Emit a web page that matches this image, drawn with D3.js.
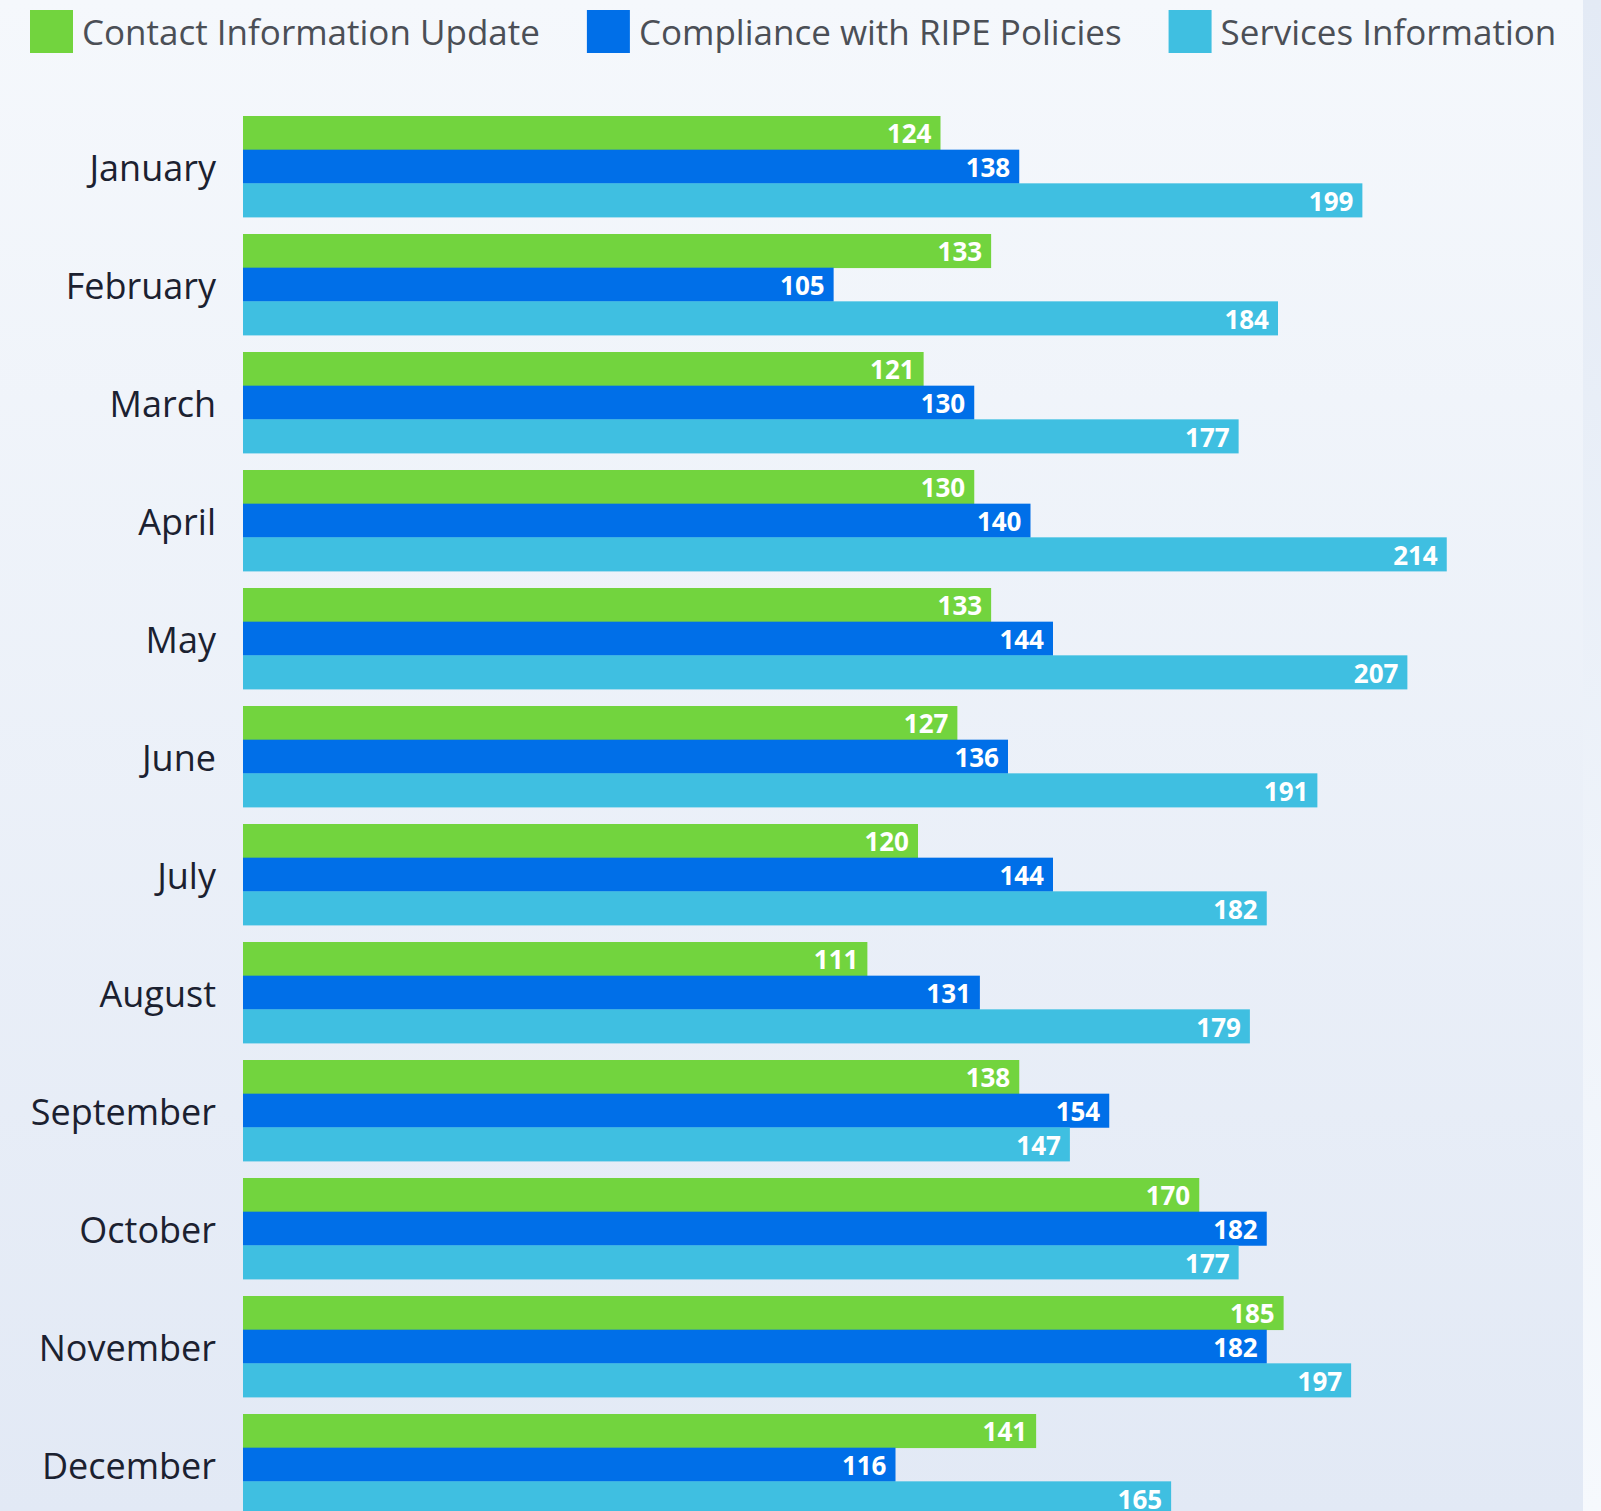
<!DOCTYPE html>
<html>
<head>
<meta charset="utf-8">
<script src="https://cdn.jsdelivr.net/npm/d3@7"></script>
<style>
  html, body { margin: 0; padding: 0; background: #f5f8fc; }
  svg { display: block; font-family: "Open Sans", sans-serif; }
</style>
</head>
<body>
<svg id="chart"></svg>
<script>
// data
var months = ['January', 'February', 'March', 'April', 'May', 'June', 'July',
  'August', 'September', 'October', 'November', 'December'];
var seriesNames = ['Contact Information Update', 'Compliance with RIPE Policies', 'Services Information'];
var contactUpdate = [124, 133, 121, 130, 133, 127, 120, 111, 138, 170, 185, 141];
var ripeCompliance = [138, 105, 130, 140, 144, 136, 144, 131, 154, 182, 182, 116];
var servicesInfo = [199, 184, 177, 214, 207, 191, 182, 179, 147, 177, 197, 165];
var seriesColors = ['#72d43e', '#006fe8', '#3fbfe1'];

var W = 1601, H = 1511;
var svg = d3.select('#chart').attr('width', W).attr('height', H);

var defs = svg.append('defs');
var g1 = defs.append('linearGradient').attr('id', 'panelBg')
    .attr('x1', 0).attr('y1', 0).attr('x2', 0).attr('y2', 1);
g1.append('stop').attr('offset', '0%').attr('stop-color', '#f5f8fc');
g1.append('stop').attr('offset', '100%').attr('stop-color', '#e2e9f5');
var g2 = defs.append('linearGradient').attr('id', 'sideBg')
    .attr('x1', 0).attr('y1', 0).attr('x2', 0).attr('y2', 1);
g2.append('stop').attr('offset', '0%').attr('stop-color', '#e3eaf5');
g2.append('stop').attr('offset', '100%').attr('stop-color', '#f6f9fd');

svg.append('rect').attr('x', 0).attr('y', 0).attr('width', W).attr('height', H)
    .attr('fill', 'url(#panelBg)');
svg.append('rect').attr('x', 1583).attr('y', 0).attr('width', W - 1583).attr('height', H)
    .attr('fill', 'url(#sideBg)');

// rows: one per month
var rows = months.map(function(m, i) {
  return { month: m, values: [contactUpdate[i], ripeCompliance[i], servicesInfo[i]] };
});

var x = d3.scaleLinear()
    .domain([0, d3.max(servicesInfo)])
    .range([243, 1446.75]);

var y = d3.scaleBand()
    .domain(months)
    .range([116, 1515])
    .paddingInner(17 / 118)
    .paddingOuter(0);

var ySub = d3.scaleBand()
    .domain(d3.range(seriesNames.length))
    .range([0, y.bandwidth()]);

// month axis labels
var yAxis = d3.axisLeft(y).tickSize(0).tickPadding(0);
var axisG = svg.append('g')
    .attr('transform', 'translate(216,0)')
    .call(yAxis);
axisG.select('.domain').remove();
axisG.selectAll('text')
    .attr('font-family', '"Open Sans", sans-serif')
    .attr('font-size', 36)
    .attr('fill', '#1b2130')
    .attr('dy', '0.4em');

var groups = svg.selectAll('g.month')
    .data(rows)
  .enter().append('g')
    .attr('class', 'month')
    .attr('transform', function(d) { return 'translate(0,' + y(d.month) + ')'; });

var cells = groups.selectAll('g.bar')
    .data(function(d) { return d.values.map(function(v, k) { return { k: k, v: v }; }); })
  .enter().append('g')
    .attr('class', 'bar');

cells.append('rect')
    .attr('x', x(0))
    .attr('y', function(d) { return ySub(d.k); })
    .attr('width', function(d) { return x(d.v) - x(0); })
    .attr('height', ySub.bandwidth() + 0.4)
    .attr('fill', function(d) { return seriesColors[d.k]; });

cells.append('text')
    .attr('x', function(d) { return x(d.v) - 9; })
    .attr('y', function(d) { return ySub(d.k) + ySub.bandwidth() / 2; })
    .attr('dy', '0.4em')
    .attr('text-anchor', 'end')
    .attr('font-size', 26)
    .attr('font-weight', 700)
    .attr('fill', '#ffffff')
    .text(function(d) { return d.v; });

// legend
var legend = svg.append('g').attr('class', 'legend');
var lx = 30;
seriesNames.forEach(function(name, i) {
  legend.append('rect')
      .attr('x', lx).attr('y', 10)
      .attr('width', 43).attr('height', 43)
      .attr('fill', seriesColors[i]);
  var t = legend.append('text')
      .attr('x', lx + 52).attr('y', 32)
      .attr('dy', '0.38em')
      .attr('font-size', 35)
      .attr('fill', '#4b4f56')
      .text(name);
  lx = lx + 52 + t.node().getComputedTextLength() + 47;
});
</script>
</body>
</html>
